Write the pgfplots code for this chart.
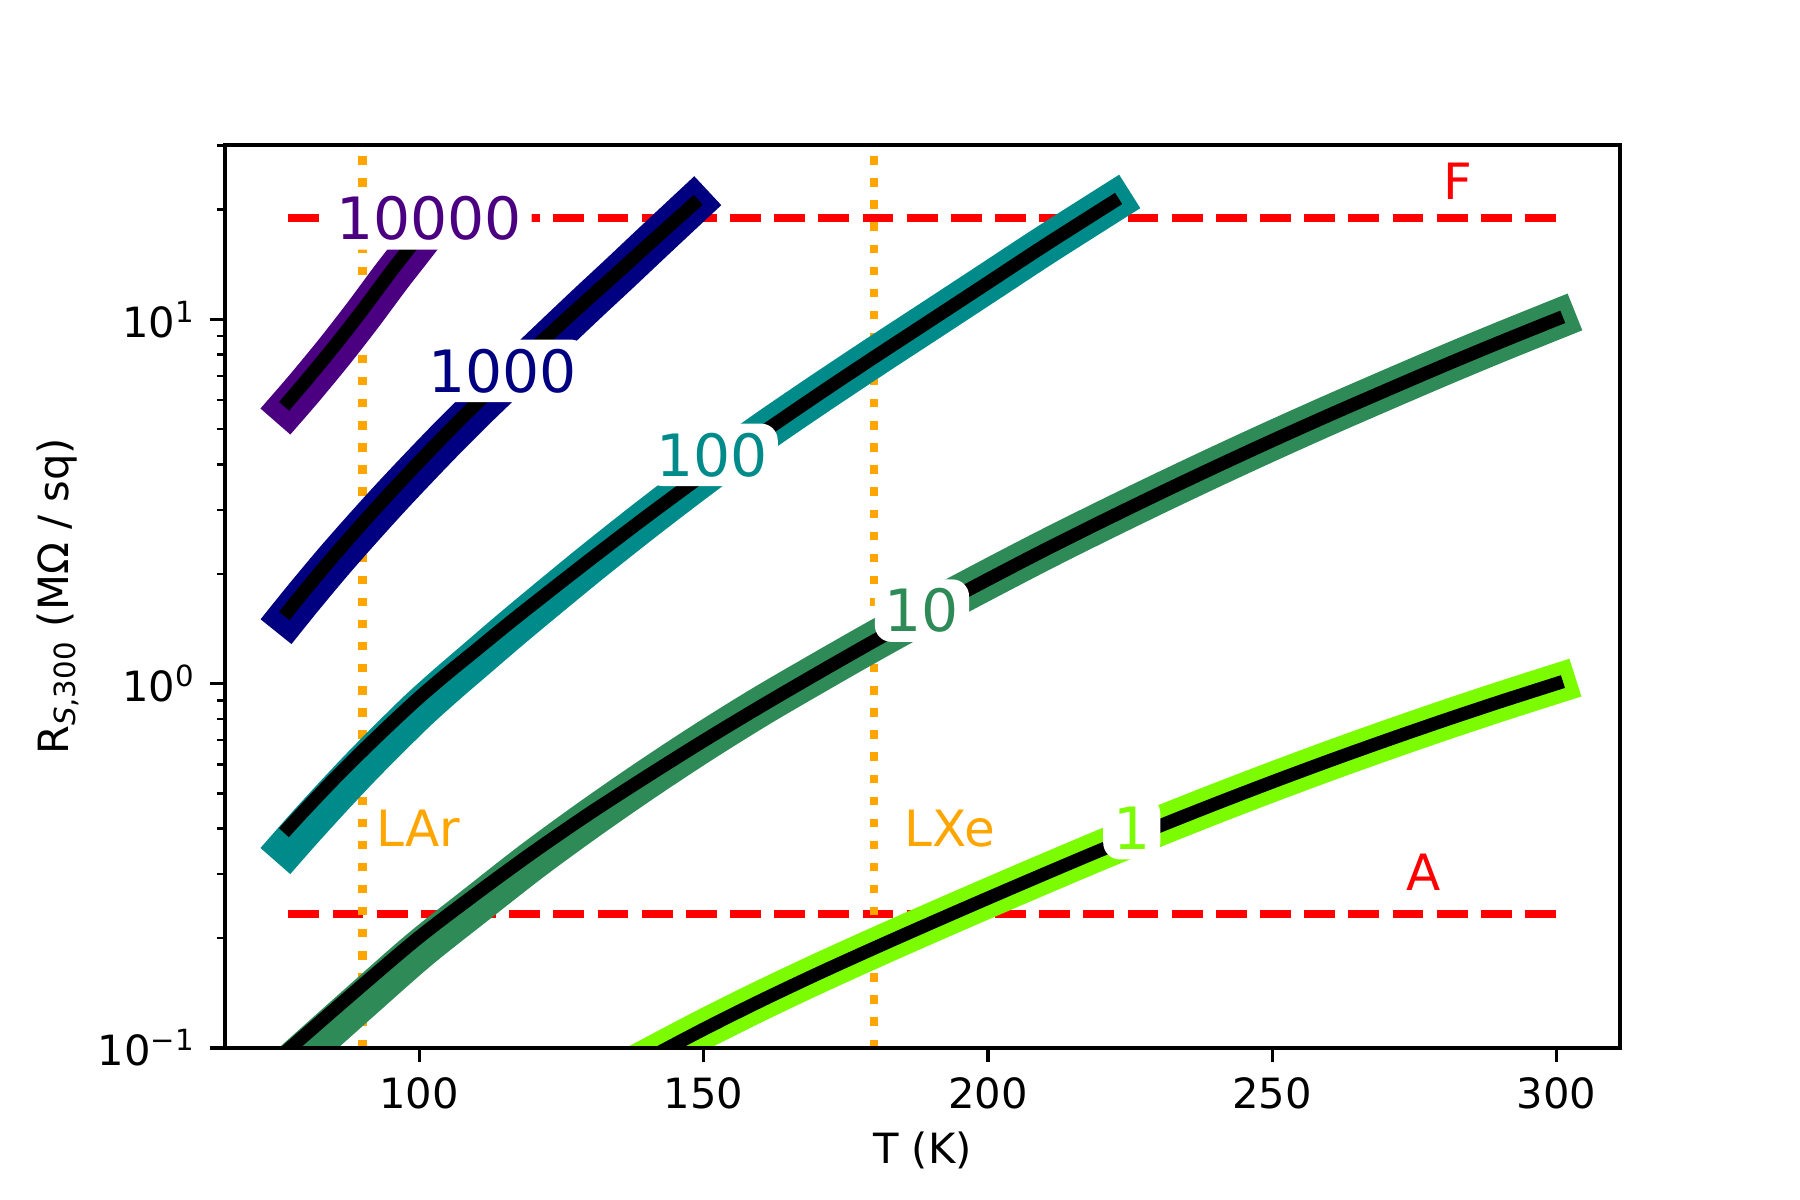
\documentclass[border=0pt]{standalone}
\usepackage{fontspec}
\setmainfont{DejaVu Sans}
\usepackage{pgfplots}
\usepackage{pgfplotstable}
\pgfplotsset{compat=1.18}

\definecolor{cIndigo}{HTML}{4B0082}
\definecolor{cNavy}{HTML}{000080}
\definecolor{cCyan}{HTML}{008B8B}
\definecolor{cSea}{HTML}{2E8B57}
\definecolor{cLime}{HTML}{7CFC00}
\definecolor{cOrange}{HTML}{FFA500}
\definecolor{cRed}{HTML}{FF0000}

% black fitted lines, one table per level
\pgfplotstableread{
T R
77 5.96
80 6.76
85 8.41
90 10.59
95 13.49
99 16.22
101 17.8
}\fitTenK
\pgfplotstableread{
T R
77 1.585
80 1.811
85 2.244
90 2.754
95 3.357
100 4.064
105 4.898
110 5.861
115 6.966
120 8.260
125 9.750
130 11.48
135 13.49
140 15.88
144 18.07
148.2 20.70
}\fitOneK
\pgfplotstableread{
T R
77 0.402
80 0.4519
85 0.5458
90 0.6531
95 0.7762
100 0.9162
105 1.068
110 1.236
115 1.432
120 1.652
130 2.188
140 2.877
150 3.750
160 4.842
170 6.194
180 7.870
190 9.954
200 12.60
210 15.96
222 20.99
}\fitHund
\pgfplotstableread{
T R
77 0.099
90 0.1486
100 0.2014
110 0.2649
120 0.3443
130 0.4406
140 0.5559
150 0.6966
160 0.8650
170 1.0666
180 1.3092
190 1.5959
200 1.9320
210 2.3281
220 2.7861
230 3.3189
240 3.9355
250 4.6452
260 5.4575
270 6.3826
280 7.4473
290 8.6497
300 10.0
}\fitTen
\pgfplotstableread{
T R
140 0.0931
150 0.1125
160 0.1346
170 0.1596
180 0.1879
190 0.2203
200 0.2576
210 0.3006
220 0.3499
230 0.4055
240 0.4677
250 0.5370
260 0.6138
270 0.6982
280 0.7907
290 0.8913
300 1.0
}\fitOne

% coloured contour bands (sit a little lower at low T)
\pgfplotstableread{
T R
77 5.76
80 6.53
85 8.12
90 10.23
95 13.03
99 15.67
101 17.2
}\conTenK
\pgfplotstableread{
T R
77 1.531
80 1.749
85 2.168
90 2.660
95 3.243
100 3.926
105 4.731
110 5.662
115 6.729
120 7.979
125 9.467
130 11.22
135 13.26
140 15.71
144 17.98
148.2 20.70
}\conOneK
\pgfplotstableread{
T R
77 0.358
80 0.4044
85 0.4923
90 0.5956
95 0.7141
100 0.8512
105 1.000
110 1.167
115 1.362
120 1.584
130 2.129
140 2.831
150 3.724
160 4.842
170 6.194
180 7.870
190 9.954
200 12.60
210 15.96
222 20.99
}\conHund
\pgfplotstableread{
T R
77 0.0893
90 0.1355
100 0.1859
110 0.2472
120 0.3274
130 0.4256
140 0.5459
150 0.6917
160 0.8650
170 1.0666
180 1.3092
190 1.5959
200 1.9320
210 2.3281
220 2.7861
230 3.3189
240 3.9355
250 4.6452
260 5.4575
270 6.3826
280 7.4473
290 8.6497
300 10.0
}\conTen

\tikzset{
  band/.style={line width=9.5pt, line cap=rect, line join=round, smooth},
  core/.style={black, line width=3.2pt, line cap=rect, line join=round, smooth},
  lbl/.style={fill=white, rounded corners=4pt, inner sep=2.4pt, anchor=center,
    text height=10.2pt, text depth=0pt, font=\fontsize{14}{16}\selectfont},
  note/.style={anchor=base west, inner sep=0pt, font=\fontsize{12}{14}\selectfont}
}

\begin{document}
\begin{tikzpicture}
\path[use as bounding box] (-54pt,-36.5pt) rectangle (378pt,251.5pt);
\begin{axis}[
  at={(0,0)}, anchor=south west,
  scale only axis, width=334.8pt, height=216.7pt,
  ymode=log,
  xmin=65.85, xmax=311.15, ymin=0.1, ymax=30.1,
  xtick={100,150,...,300},
  ytick={0.1,1,10},
  yticklabels={10\textsuperscript{−1},10\textsuperscript{0},10\textsuperscript{1}},
  minor ytick={0.2,0.3,0.4,0.5,0.6,0.7,0.8,0.9,2,3,4,5,6,7,8,9,20,30},
  tick pos=left, tick align=outside,
  major tick length=3.5pt, minor tick length=2pt,
  every major tick/.append style={line width=0.8pt, black},
  every minor tick/.append style={line width=0.6pt, black},
  axis line style={line width=0.8pt},
  axis on top,
  /pgf/number format/assume math mode=true,
  xlabel={T (K)},
  ylabel={R\textsubscript{\textit{S},300} (MΩ / sq)},
  xlabel style={at={(axis description cs:0.5,-0.114)}, anchor=center},
  ylabel style={at={(axis description cs:-0.12,0.5)}, anchor=center},
]
% reference lines
\addplot[cRed, line width=2pt, dash pattern=on 7.4pt off 3.2pt] coordinates {(77,19) (300,19)};
\addplot[cRed, line width=2pt, dash pattern=on 7.4pt off 3.2pt] coordinates {(77,0.233) (300,0.233)};
\addplot[cOrange, line width=2pt, dash pattern=on 2pt off 3.3pt] coordinates {(90,0.1) (90,30.1)};
\addplot[cOrange, line width=2pt, dash pattern=on 2pt off 3.3pt] coordinates {(180,0.1) (180,30.1)};

% contour levels: coloured band, then black line
\addplot[band, cIndigo] table[x=T, y=R] {\conTenK};
\addplot[core] table[x=T, y=R] {\fitTenK};
\addplot[band, cNavy] table[x=T, y=R] {\conOneK};
\addplot[core] table[x=T, y=R] {\fitOneK};
\addplot[band, cCyan] table[x=T, y=R] {\conHund};
\addplot[core] table[x=T, y=R] {\fitHund};
\addplot[band, cSea] table[x=T, y=R] {\conTen};
\addplot[core] table[x=T, y=R] {\fitTen};
\addplot[band, cLime] table[x=T, y=R] {\fitOne};
\addplot[core] table[x=T, y=R] {\fitOne};

% contour labels
\node[lbl, text=cIndigo] at (axis cs:101.7,18.93) {10000};
\node[lbl, text=cNavy] at (axis cs:114.7,7.225) {1000};
\node[lbl, text=cCyan] at (axis cs:151.5,4.245) {100};
\node[lbl, text=cSea] at (axis cs:188.4,1.586) {10};
\node[lbl, text=cLime] at (axis cs:225.3,0.401) {1};

% annotations
\node[note, text=cOrange] at (axis cs:92.3,0.3574) {LAr};
\node[note, text=cOrange] at (axis cs:185.2,0.3574) {LXe};
\node[note, text=cRed] at (axis cs:279.9,21.34) {F};
\node[note, text=cRed] at (axis cs:273.4,0.2708) {A};
\end{axis}
\end{tikzpicture}
\end{document}
